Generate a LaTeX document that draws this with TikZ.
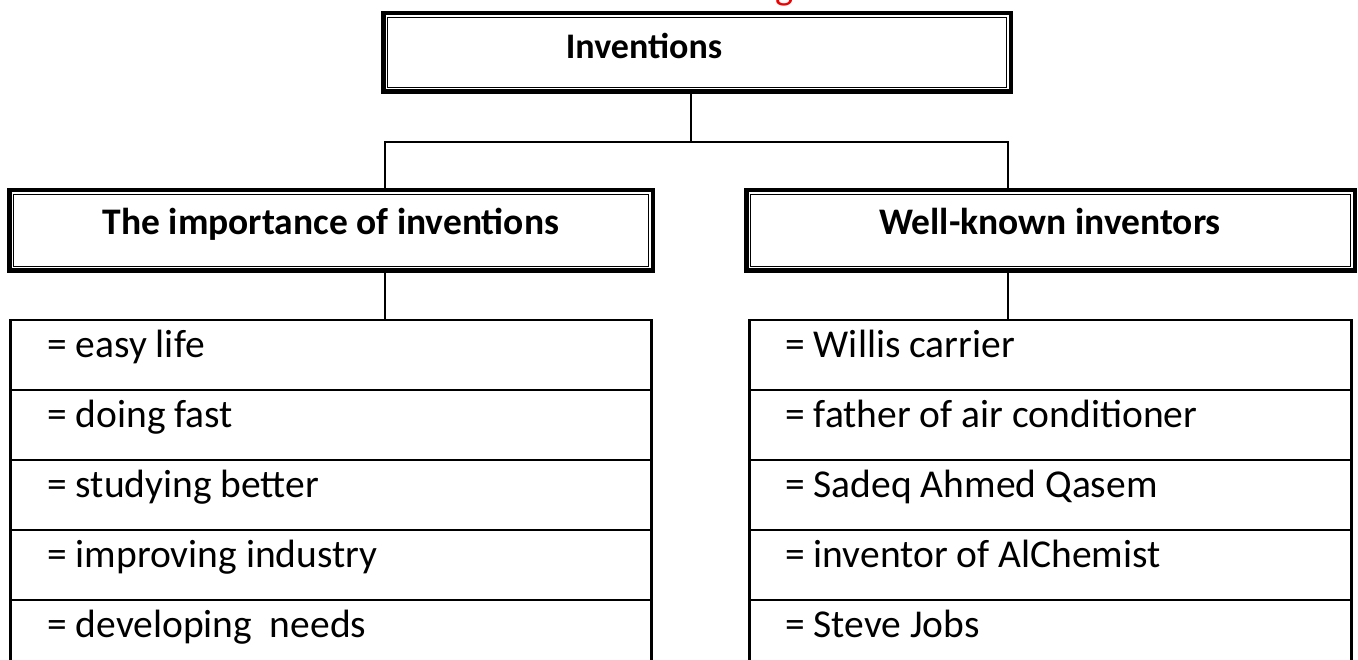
\documentclass[tikz,border=0pt]{standalone}
\usepackage{fontspec}
\setmainfont{Carlito}
\definecolor{headred}{RGB}{240,0,0}
\begin{document}
\begin{tikzpicture}[x=1pt,y=-1pt,
  thickbox/.style={draw, line width=4.5pt, inner sep=0pt, outer sep=2.25pt},
  thinframe/.style={line width=1.5pt},
  conn/.style={line width=2pt},
  cell/.style={draw, line width=2.6pt, inner sep=0pt, outer sep=1.3pt, minimum height=70pt},
  lcell/.style={cell, minimum width=641.4pt},
  rcell/.style={cell, minimum width=602.4pt},
  celltxt/.style={font=\fontsize{39.5}{47}\selectfont, anchor=base west, inner sep=0pt},
  hdrtxt/.style={font=\fontsize{37.5}{45}\selectfont\bfseries, anchor=base, inner sep=0pt}]
\useasboundingbox (0,0) rectangle (1358,660);
\clip (0,0) rectangle (1358,660);
\fill[white] (0,0) rectangle (1358,660);

% cut-off red heading
\node[font=\fontsize{38.5}{46}\selectfont, text=headred, anchor=base, inner sep=0pt] (redg) at (785,0) {g};

% title
\node[thickbox, minimum width=627.5pt, minimum height=78.5pt] (title) at (697,52.5) {};
\draw[thinframe] ([shift={(6.5pt,-6.5pt)}]title.north west) rectangle ([shift={(-6.5pt,6.5pt)}]title.south east);
\node[hdrtxt, font=\fontsize{36}{43}\selectfont\bfseries] (titletxt) at (644,59) {Inventions};

% headers
\node[thickbox, minimum width=643.5pt, minimum height=80.5pt] (lhdr) at (331,230.5) {};
\draw[thinframe] ([shift={(6.5pt,-6.5pt)}]lhdr.north west) rectangle ([shift={(-6.5pt,6.5pt)}]lhdr.south east);
\node[hdrtxt] (lhdrtxt) at (331,235) {The importance of inventions};

\node[thickbox, minimum width=608.5pt, minimum height=80.5pt] (rhdr) at (1050.5,230.5) {};
\draw[thinframe] ([shift={(6.5pt,-6.5pt)}]rhdr.north west) rectangle ([shift={(-6.5pt,6.5pt)}]rhdr.south east);
\node[hdrtxt] (rhdrtxt) at (1050,235) {Well-known inventors};

% connectors
\coordinate (jm) at (691,142);
\coordinate (jl) at (385,142);
\coordinate (jr) at (1008,142);
\draw[conn] (jm |- title.south) -- (jm);
\draw[conn] (jl |- lhdr.north) -- (jl) -- (jr) -- (jr |- rhdr.north);

% left list
\node[lcell] (l1) at (331,355) {};
\node[lcell] (l2) at (331,425) {};
\node[lcell] (l3) at (331,495) {};
\node[lcell] (l4) at (331,565) {};
\node[lcell] (l5) at (331,635) {};
\foreach \n/\t in {l1/{= easy life}, l2/{= doing fast}, l3/{= studying better}, l4/{= improving industry}, l5/{= developing\ \ needs}}
  \node[celltxt] (\n txt) at ([shift={(38pt,-39pt)}]\n.north west) {\t};

% right list
\node[rcell] (r1) at (1050.5,355) {};
\node[rcell] (r2) at (1050.5,425) {};
\node[rcell] (r3) at (1050.5,495) {};
\node[rcell] (r4) at (1050.5,565) {};
\node[rcell] (r5) at (1050.5,635) {};
\foreach \n/\t in {r1/{= Willis carrier}, r2/{= father of air conditioner}, r3/{= Sadeq Ahmed Qasem}, r4/{= inventor of AlChemist}, r5/{= Steve Jobs}}
  \node[celltxt] (\n txt) at ([shift={(37pt,-39pt)}]\n.north west) {\t};

\draw[conn] (lhdr.south -| jl) -- (l1.north -| jl);
\draw[conn] (rhdr.south -| jr) -- (r1.north -| jr);
\end{tikzpicture}
\end{document}
